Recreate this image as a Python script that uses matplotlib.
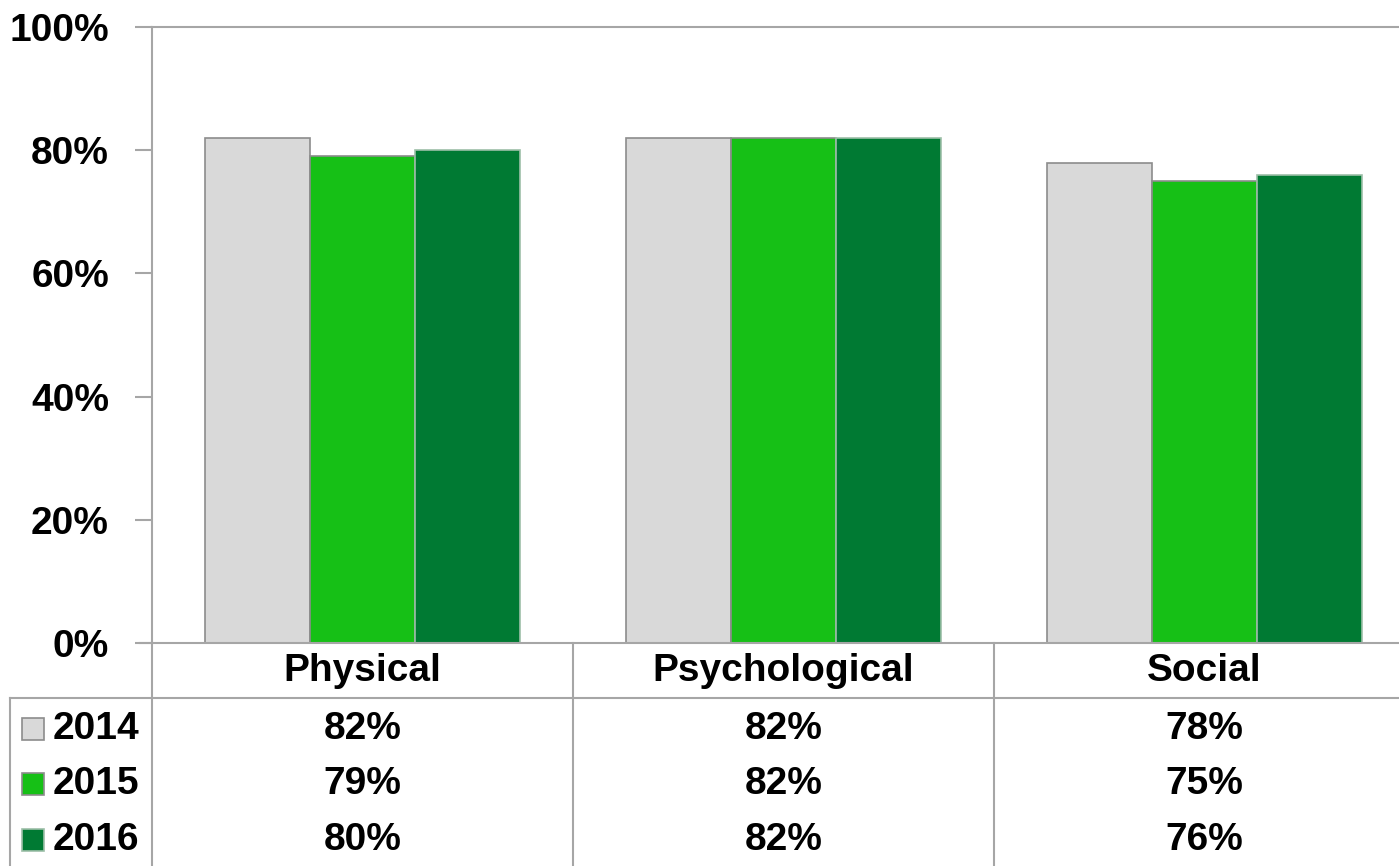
import numpy as np
import matplotlib.pyplot as plt
from matplotlib.ticker import PercentFormatter
import matplotlib.transforms as mtransforms
from matplotlib.lines import Line2D
from matplotlib.patches import Rectangle

categories = ['Physical', 'Psychological', 'Social']
years = ['2014', '2015', '2016']
v2014 = [0.82, 0.82, 0.78]
v2015 = [0.79, 0.82, 0.75]
v2016 = [0.80, 0.82, 0.76]
series = [v2014, v2015, v2016]
colors = ['#D9D9D9', '#16C016', '#007A33']
edges = ['#8C8C8C', '#8C8C8C', '#9DBFA8']

plt.rcParams['font.family'] = ['Liberation Sans', 'DejaVu Sans']
plt.rcParams['font.weight'] = 'bold'
FS = 28
GRID = '#A6A6A6'

W, H = 1399, 866
fig = plt.figure(figsize=(W / 100, H / 100), dpi=100)
# plot area runs slightly past the right edge of the image, as in the original
ax = fig.add_axes([152 / W, (H - 643) / H, 1263 / W, (643 - 27) / H])

x = np.arange(len(categories))
width = 0.25
for i, vals in enumerate(series):
    ax.bar(x + (i - 1) * width, vals, width, color=colors[i],
           edgecolor=edges[i], linewidth=1.2, zorder=3)

ax.set_xlim(-0.5, len(categories) - 0.5)
ax.set_ylim(0, 1)
ax.set_yticks(np.arange(0, 1.01, 0.2))
ax.yaxis.set_major_formatter(PercentFormatter(1.0, decimals=0))
ax.set_xticks([])
ax.tick_params(axis='y', length=12, width=1.5, color=GRID, labelsize=FS, pad=19)
for lab in ax.get_yticklabels():
    lab.set_fontweight('bold')
for s in ['right', 'bottom']:
    ax.spines[s].set_visible(False)
ax.spines['left'].set_color(GRID)
ax.spines['left'].set_linewidth(1.5)
ax.spines['top'].set_color(GRID)
ax.spines['top'].set_linewidth(1.5)

# data table below the plot, drawn in figure space
def fy(py):
    return (H - py) / H

def hline(x0, x1, py):
    fig.add_artist(Line2D([x0 / W, x1 / W], [fy(py), fy(py)], color=GRID, lw=1.5))

def vline(px, y0, y1):
    fig.add_artist(Line2D([px / W, px / W], [fy(y0), fy(y1)], color=GRID, lw=1.5))

hline(140, W, 643)
hline(10, W, 698)
vline(152, 643, H)
vline(10, 698, H)
bounds = ax.transData.transform([(k + 0.5, 0) for k in range(len(categories) - 1)])
for bx, _ in bounds:
    vline(bx, 643, H)

blend = mtransforms.blended_transform_factory(ax.transData, fig.transFigure)
for k, cat in enumerate(categories):
    fig.text(x[k], fy(671), cat, transform=blend, ha='center', va='center',
             fontsize=FS, fontweight='bold')

row_y = [729, 784, 840]
for i, vals in enumerate(series):
    for k, v in enumerate(vals):
        fig.text(x[k], fy(row_y[i]), f'{v:.0%}', transform=blend, ha='center',
                 va='center', fontsize=FS, fontweight='bold')
    fig.add_artist(Rectangle((22 / W, fy(row_y[i] + 11)), 22 / W, 22 / H,
                             facecolor=colors[i], edgecolor=edges[i], lw=1.2))
    fig.text(53 / W, fy(row_y[i]), years[i], ha='left', va='center',
             fontsize=FS, fontweight='bold')

fig.savefig('out.png', dpi=100)
